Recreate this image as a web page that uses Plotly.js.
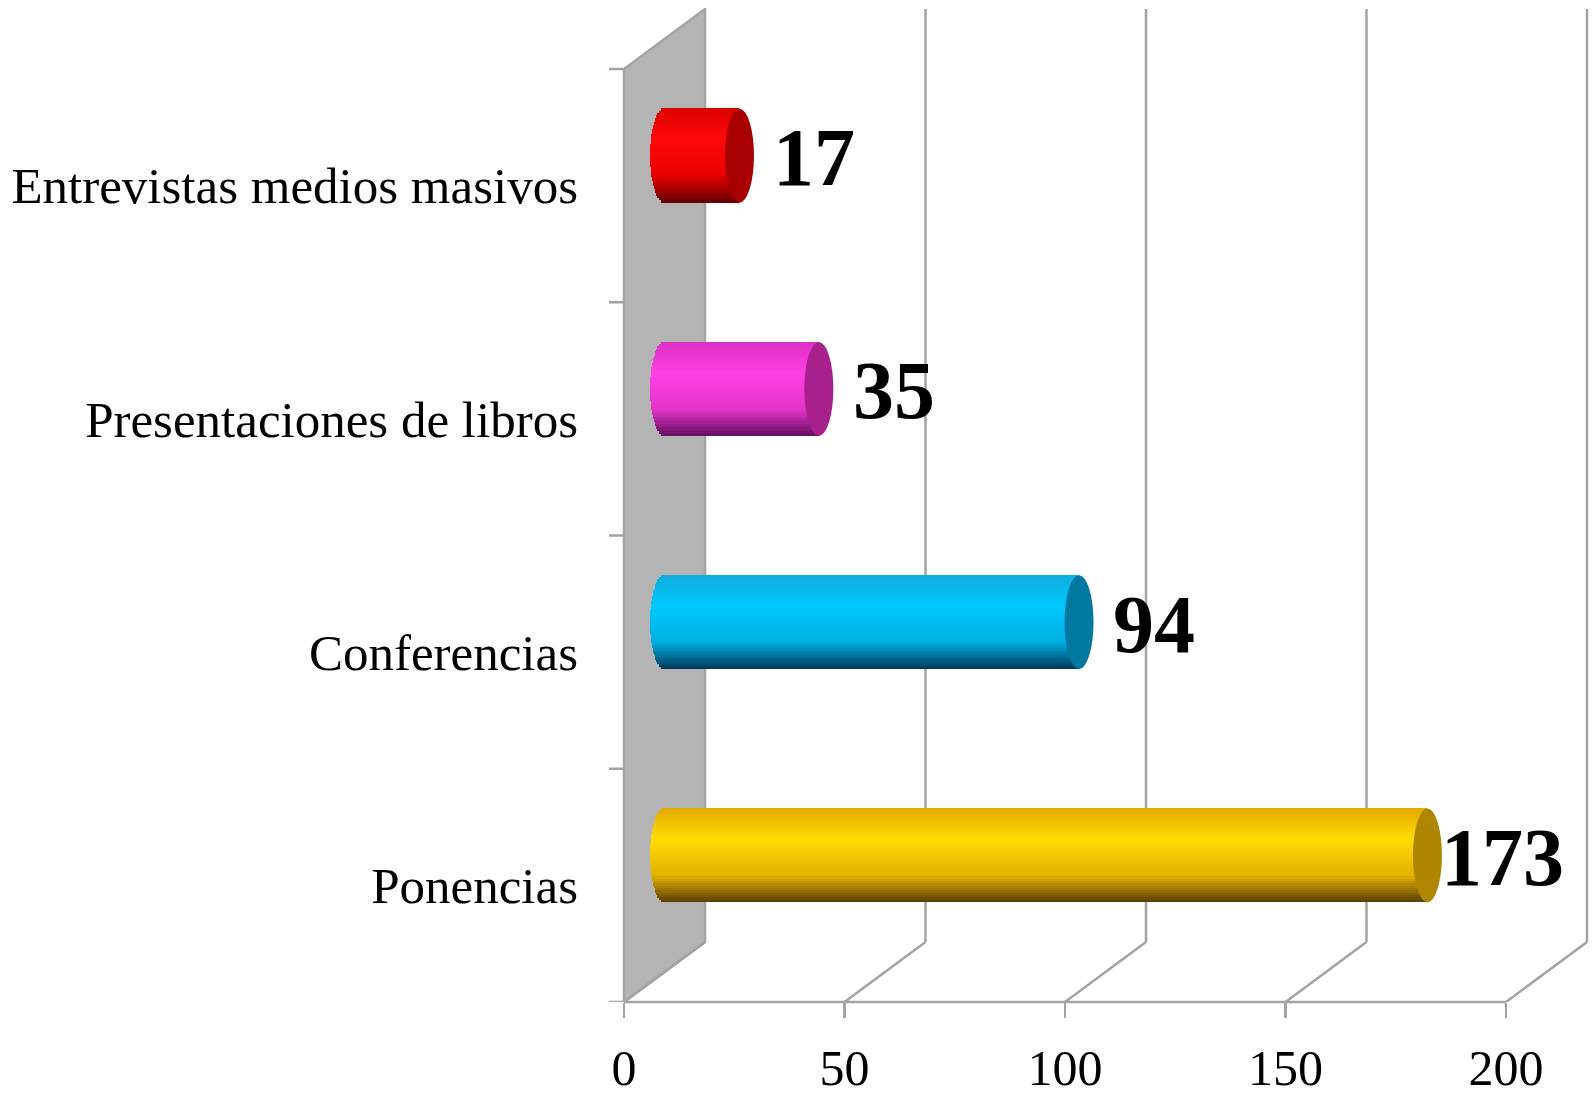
<!DOCTYPE html>
<html>
<head>
<meta charset="utf-8">
<script src="https://cdn.plot.ly/plotly-3.0.1.min.js"></script>
<style>html,body{margin:0;padding:0;background:#fff;}#chart{width:1592px;height:1098px;}</style>
</head>
<body>
<div id="chart"></div>
<script>
// ---- data ----
const categories = ['Ponencias', 'Conferencias', 'Presentaciones de libros', 'Entrevistas medios masivos'];
const values = [173, 94, 35, 17];
const xTickValues = [0, 50, 100, 150, 200];
const xTickLabels = ['0', '50', '100', '150', '200'];

// ---- styles ----
const barTop  = ['#e4a800', '#12acdc', '#dc30c4', '#dc0000'];
const barHi   = ['#ffdc06', '#00c8ff', '#ff40e4', '#ff0a0a'];
const barMid  = ['#e2b000', '#00aee0', '#e434ca', '#e60000'];
const barDark = ['#5a3e00', '#003a58', '#661060', '#660000'];
const capCol  = ['#b08600', '#0078a0', '#a8208c', '#a80000'];

const W = 1592, H = 1098;
const ML = 624, MR = 1, MT = 8, MB = 96;
const PXX = 4.41;     // px per x unit
const PXY = 233.25;   // px per category unit
const xMax = (W - ML - MR) / PXX;
const yMin = -0.5;
const yMax = yMin + (H - MT - MB) / PXY;
const D = 81 / PXX;   // depth offset in x units
const E = 60 / PXY;   // depth offset in y units
const barH = 94 / PXY;
const capR = 14.5 / PXX;
const nCat = categories.length;
const gridColor = '#a3a3a3';
const FONT = 'Liberation Serif, Times New Roman, serif';

function hex2rgb(h){h=h.replace('#','');return [parseInt(h.substr(0,2),16),parseInt(h.substr(2,2),16),parseInt(h.substr(4,2),16)];}
function mix(a,b,t){const A=hex2rgb(a),B=hex2rgb(b);return 'rgb('+A.map((v,i)=>Math.round(v+(B[i]-v)*t)).join(',')+')';}
function grad(i,t){
  const stops=[[0,barTop[i]],[0.33,barHi[i]],[0.72,barMid[i]],[1,barDark[i]]];
  for(let k=0;k<stops.length-1;k++){
    if(t<=stops[k+1][0]){const s=(t-stops[k][0])/(stops[k+1][0]-stops[k][0]);return mix(stops[k][1],stops[k+1][1],s);}
  }
  return stops[stops.length-1][1];
}

const yPos = categories.map((c,i)=>i + E/2);
const traces = [];
const N = 40;
for(let k=0;k<N;k++){
  const t=(k+0.5)/N;
  const u = 1 - 2*t;                       // -1..1 across the cylinder height
  const bulge = capR*Math.sqrt(Math.max(0,1-u*u)); // rounded left end
  traces.push({
    type:'bar', orientation:'h',
    x: values.map(v=>v+bulge), y: yPos, base: D/2 - bulge,
    width: barH/N*1.15, offset: barH/2 - (k+1)*barH/N,
    marker:{color: values.map((v,i)=>grad(i,t)), line:{width:0}},
    hoverinfo:'skip', showlegend:false
  });
}

const shapes = [];
// left wall
shapes.push({type:'path', xref:'x', yref:'y', layer:'below',
  path:`M0,${yMin} L0,${yMin+nCat} L${D},${yMin+nCat+E} L${D},${yMin+E} Z`,
  fillcolor:'#b4b4b4', line:{color:gridColor, width:2.5}});
// back wall gridlines and floor diagonals
xTickValues.forEach(v=>{
  if(v>0){
    shapes.push({type:'line', xref:'x', yref:'y', layer:'below',
      x0:v+D, x1:v+D, y0:yMin+E, y1:yMin+nCat+E, line:{color:gridColor, width:2.5}});
  }
  shapes.push({type:'line', xref:'x', yref:'y', layer:'below',
    x0:v, x1:v+D, y0:yMin, y1:yMin+E, line:{color:gridColor, width:2.5}});
});
// front baseline
shapes.push({type:'line', xref:'x', yref:'paper', layer:'below',
  x0:0, x1:xTickValues[xTickValues.length-1], y0:0, y1:0, line:{color:gridColor, width:2.5}});
// front left edge
shapes.push({type:'line', xref:'paper', yref:'y', layer:'below',
  x0:0, x1:0, y0:yMin, y1:yMin+nCat, line:{color:gridColor, width:2.5}});
// category boundary ticks
for(let i=0;i<=nCat;i++){
  shapes.push({type:'line', xref:'paper', yref:'y', layer:'below',
    x0:-15/(W-ML-MR), x1:0, y0:yMin+i, y1:yMin+i, line:{color:gridColor, width:2.5}});
}
// right end caps
values.forEach((v,i)=>{
  const yc = yPos[i];
  shapes.push({type:'circle', xref:'x', yref:'y', layer:'above',
    x0:D/2+v-capR, x1:D/2+v+capR, y0:yc-barH/2, y1:yc+barH/2,
    fillcolor:capCol[i], line:{width:0}});
});

const annotations = values.map((v,i)=>({
  x: D/2+v, y: yPos[i], xref:'x', yref:'y',
  text: String(v), showarrow:false, xanchor:'center', yanchor:'middle', xshift:75, yshift:-2,
  font:{family:FONT, size:82, color:'#000', weight:'bold'}
}));

const layout = {
  width:W, height:H,
  margin:{l:ML, r:MR, t:MT, b:MB, pad:0},
  paper_bgcolor:'#fff', plot_bgcolor:'rgba(0,0,0,0)',
  barmode:'overlay', bargap:0,
  showlegend:false,
  xaxis:{range:[0,xMax], tickmode:'array', tickvals:xTickValues, ticktext:xTickLabels,
    ticks:'outside', ticklen:15, tickwidth:2.5, tickcolor:gridColor, ticklabelstandoff:7,
    showgrid:false, zeroline:false, showline:false,
    tickfont:{family:FONT, size:50, color:'#000'}, fixedrange:true},
  yaxis:{range:[yMin,yMax], tickmode:'array', tickvals:categories.map((c,i)=>i), ticktext:categories,
    ticks:'', ticklabelstandoff:45, showgrid:false, zeroline:false, showline:false,
    tickfont:{family:FONT, size:51, color:'#000'}, fixedrange:true},
  shapes:shapes, annotations:annotations
};

Plotly.newPlot('chart', traces, layout, {displayModeBar:false, staticPlot:true});
</script>
</body>
</html>
